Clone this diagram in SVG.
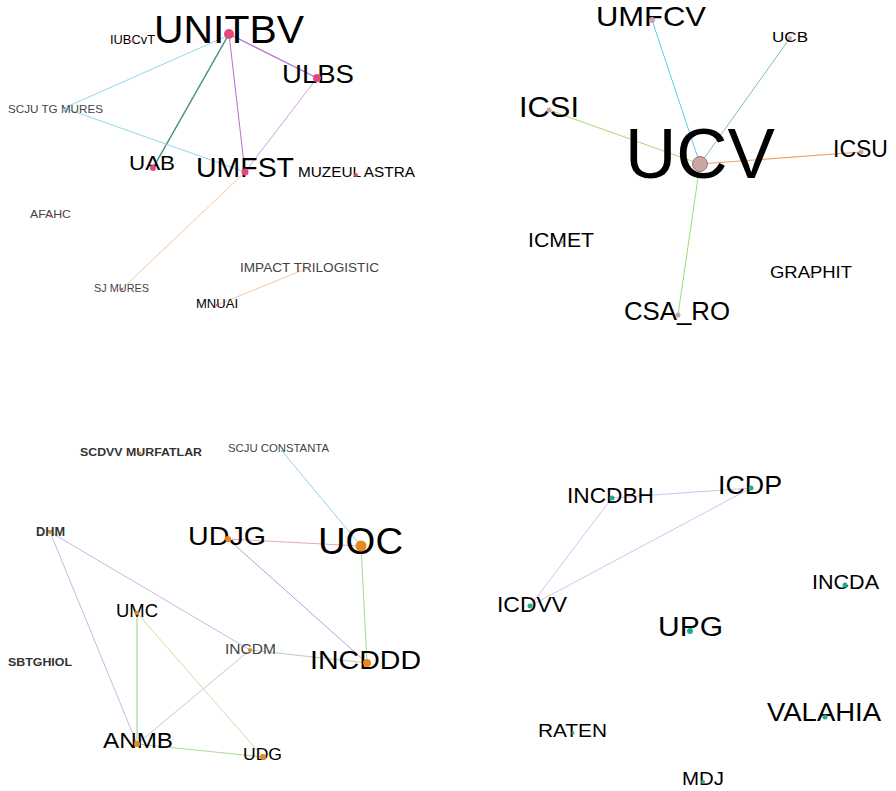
<svg xmlns="http://www.w3.org/2000/svg" width="896" height="791" viewBox="0 0 896 791">
<style>
text{font-family:"Liberation Sans",Arial,sans-serif;fill:#000}
.g{fill:#444}
.b{font-weight:bold;fill:#333}
.pk{fill:#e5487a}
.mv{fill:#c9a5a3}
.or{fill:#e8871e}
.tl{fill:#1fae8a}
#edges line{fill:none}
</style>
<rect width="896" height="791" fill="#fff"/>
<g id="edges">
<line x1="229" y1="34" x2="153" y2="168" stroke="#3f8f80" stroke-width="1.5"/>
<line x1="229" y1="34" x2="317" y2="78" stroke="#b070d0" stroke-width="1.2"/>
<line x1="229" y1="34" x2="245" y2="172" stroke="#b070d0" stroke-width="1"/>
<line x1="317" y1="78" x2="245" y2="172" stroke="#d0a0e0" stroke-width="1"/>
<line x1="227" y1="36" x2="64" y2="108" stroke="#8fd8e8" stroke-width="1"/>
<line x1="64" y1="108" x2="245" y2="172" stroke="#8fd8e8" stroke-width="1"/>
<line x1="243" y1="174" x2="123" y2="288" stroke="#f0c8a8" stroke-width="1"/>
<line x1="217" y1="305" x2="308" y2="268" stroke="#f0c8a8" stroke-width="1"/>
<line x1="652" y1="20" x2="700" y2="164" stroke="#60c8f0" stroke-width="1"/>
<line x1="790" y1="38" x2="700" y2="164" stroke="#88c0b0" stroke-width="1"/>
<line x1="549" y1="110" x2="700" y2="164" stroke="#a8d878" stroke-width="1"/>
<line x1="861" y1="152" x2="700" y2="164" stroke="#f0a060" stroke-width="1.2"/>
<line x1="678" y1="315" x2="700" y2="164" stroke="#98e070" stroke-width="1"/>
<line x1="282" y1="451" x2="361" y2="546" stroke="#90d0e8" stroke-width="1"/>
<line x1="228" y1="539" x2="361" y2="546" stroke="#e8a8b8" stroke-width="1"/>
<line x1="228" y1="539" x2="367" y2="663" stroke="#b8a0d8" stroke-width="1"/>
<line x1="361" y1="546" x2="367" y2="663" stroke="#a8d890" stroke-width="1"/>
<line x1="50" y1="532" x2="137" y2="744" stroke="#c8b8e0" stroke-width="1"/>
<line x1="50" y1="532" x2="250" y2="650" stroke="#c8b8e0" stroke-width="1"/>
<line x1="137" y1="613" x2="137" y2="744" stroke="#98d080" stroke-width="1"/>
<line x1="137" y1="613" x2="263" y2="757" stroke="#c8e0a0" stroke-width="1"/>
<line x1="250" y1="650" x2="367" y2="663" stroke="#b8d0b0" stroke-width="1"/>
<line x1="250" y1="650" x2="137" y2="744" stroke="#d0c0e0" stroke-width="1"/>
<line x1="137" y1="744" x2="263" y2="757" stroke="#a8d898" stroke-width="1"/>
<line x1="612" y1="498" x2="751" y2="488" stroke="#d8c0f0" stroke-width="1"/>
<line x1="612" y1="498" x2="530" y2="606" stroke="#d8c0f0" stroke-width="1"/>
<line x1="751" y1="488" x2="530" y2="606" stroke="#d8c0f0" stroke-width="1"/>
</g>
<g id="n-unitbv"><text x="154" y="43" font-size="39" textLength="150" lengthAdjust="spacingAndGlyphs">UNITBV</text><circle class="pk" cx="229" cy="34" r="5"/></g>
<g id="n-iubcvt"><text x="110" y="44" font-size="12" textLength="45" lengthAdjust="spacingAndGlyphs">IUBCvT</text><circle class="pk" cx="133" cy="41" r="1.5"/></g>
<g id="n-ulbs"><text x="282" y="83" font-size="25" textLength="72" lengthAdjust="spacingAndGlyphs">ULBS</text><circle class="pk" cx="317" cy="78" r="4"/></g>
<g id="n-scju-tg"><text class="g" x="8" y="113" font-size="11" textLength="95" lengthAdjust="spacingAndGlyphs">SCJU TG MURES</text><circle fill="#8fd8e8" cx="64" cy="110" r="1.5"/></g>
<g id="n-uab"><text x="129" y="170" font-size="21" textLength="46" lengthAdjust="spacingAndGlyphs">UAB</text><circle class="pk" cx="153" cy="168" r="3"/></g>
<g id="n-umfst"><text x="196" y="177" font-size="27" textLength="98" lengthAdjust="spacingAndGlyphs">UMFST</text><circle class="pk" cx="245" cy="172" r="3.5"/></g>
<g id="n-muzeul"><text x="298" y="177" font-size="14" textLength="117" lengthAdjust="spacingAndGlyphs">MUZEUL ASTRA</text><circle class="pk" cx="356" cy="175" r="2"/></g>
<g id="n-afahc"><text class="g" x="30" y="218" font-size="10.5" textLength="41" lengthAdjust="spacingAndGlyphs">AFAHC</text><circle class="pk" cx="50" cy="216" r="1.2"/></g>
<g id="n-sjmures"><text class="g" x="94" y="292" font-size="11" textLength="55" lengthAdjust="spacingAndGlyphs">SJ MURES</text><circle class="pk" cx="122" cy="289" r="1.3"/></g>
<g id="n-impact"><text class="g" x="240" y="272" font-size="13" textLength="139" lengthAdjust="spacingAndGlyphs">IMPACT TRILOGISTIC</text><circle class="pk" cx="308" cy="268" r="1.3"/></g>
<g id="n-mnuai"><text x="196" y="308" font-size="13" textLength="42" lengthAdjust="spacingAndGlyphs">MNUAI</text><circle class="pk" cx="217" cy="305" r="1.3"/></g>
<g id="n-umfcv"><text x="596" y="26" font-size="28" textLength="110" lengthAdjust="spacingAndGlyphs">UMFCV</text><circle class="mv" cx="652" cy="20" r="3"/></g>
<g id="n-ucb"><text x="772" y="42" font-size="15" textLength="36" lengthAdjust="spacingAndGlyphs">UCB</text><circle class="mv" cx="790" cy="38" r="2"/></g>
<g id="n-icsi"><text x="519" y="117" font-size="29" textLength="60" lengthAdjust="spacingAndGlyphs">ICSI</text><circle class="mv" cx="549" cy="110" r="2.5"/></g>
<g id="n-ucv"><text x="625" y="178" font-size="70" textLength="150" lengthAdjust="spacingAndGlyphs">UCV</text><circle class="mv" cx="700" cy="164" r="7.5" stroke="#9a7a78" stroke-width="1"/></g>
<g id="n-icsu"><text x="833" y="157" font-size="23" textLength="55" lengthAdjust="spacingAndGlyphs">ICSU</text><circle class="mv" cx="861" cy="152" r="2.5"/></g>
<g id="n-icmet"><text x="528" y="247" font-size="21" textLength="66" lengthAdjust="spacingAndGlyphs">ICMET</text><circle class="mv" cx="562" cy="242" r="1.5"/></g>
<g id="n-graphit"><text x="770" y="278" font-size="17" textLength="82" lengthAdjust="spacingAndGlyphs">GRAPHIT</text><circle class="mv" cx="811" cy="275" r="1.5"/></g>
<g id="n-csaro"><text x="624" y="320" font-size="25" textLength="106" lengthAdjust="spacingAndGlyphs">CSA_RO</text><circle class="mv" cx="678" cy="315" r="2.5"/></g>
<g id="n-scdvv"><text class="b" x="80" y="456" font-size="11.5" textLength="122" lengthAdjust="spacingAndGlyphs">SCDVV MURFATLAR</text><circle class="or" cx="140" cy="453" r="1.5"/></g>
<g id="n-scju-ct"><text class="g" x="228" y="452" font-size="11.5" textLength="101" lengthAdjust="spacingAndGlyphs">SCJU CONSTANTA</text><circle fill="#90d0e8" cx="282" cy="451" r="1.2"/></g>
<g id="n-dhm"><text class="b" x="36" y="536" font-size="12" textLength="29" lengthAdjust="spacingAndGlyphs">DHM</text><circle class="or" cx="50" cy="532" r="2"/></g>
<g id="n-udjg"><text x="188" y="545" font-size="26" textLength="78" lengthAdjust="spacingAndGlyphs">UDJG</text><circle class="or" cx="228" cy="539" r="3"/></g>
<g id="n-uoc"><text x="318" y="554" font-size="36" textLength="85" lengthAdjust="spacingAndGlyphs">UOC</text><circle class="or" cx="361" cy="546" r="5.5"/></g>
<g id="n-umc"><text x="116" y="617" font-size="18" textLength="42" lengthAdjust="spacingAndGlyphs">UMC</text><circle class="or" cx="137" cy="613" r="2.2"/></g>
<g id="n-sbtghiol"><text class="b" x="8" y="666" font-size="11" textLength="64" lengthAdjust="spacingAndGlyphs">SBTGHIOL</text><circle class="or" cx="38" cy="663" r="1"/></g>
<g id="n-incdm"><text class="g" x="225" y="654" font-size="15" textLength="51" lengthAdjust="spacingAndGlyphs">INCDM</text><circle class="or" cx="250" cy="650" r="2"/></g>
<g id="n-incddd"><text x="310" y="669" font-size="26" textLength="111" lengthAdjust="spacingAndGlyphs">INCDDD</text><circle class="or" cx="367" cy="663" r="4"/></g>
<g id="n-anmb"><text x="103" y="748" font-size="22" textLength="70" lengthAdjust="spacingAndGlyphs">ANMB</text><circle class="or" cx="137" cy="744" r="3"/></g>
<g id="n-udg"><text x="243" y="760" font-size="17" textLength="39" lengthAdjust="spacingAndGlyphs">UDG</text><circle class="or" cx="263" cy="757" r="3"/></g>
<g id="n-incdbh"><text x="567" y="503" font-size="22" textLength="87" lengthAdjust="spacingAndGlyphs">INCDBH</text><circle class="tl" cx="612" cy="498" r="2.5"/></g>
<g id="n-icdp"><text x="718" y="494" font-size="26" textLength="64" lengthAdjust="spacingAndGlyphs">ICDP</text><circle class="tl" cx="751" cy="488" r="2.5"/></g>
<g id="n-incda"><text x="812" y="589" font-size="20" textLength="67" lengthAdjust="spacingAndGlyphs">INCDA</text><circle class="tl" cx="845" cy="585" r="2.5"/></g>
<g id="n-icdvv"><text x="497" y="612" font-size="22" textLength="70" lengthAdjust="spacingAndGlyphs">ICDVV</text><circle class="tl" cx="530" cy="606" r="2.5"/></g>
<g id="n-upg"><text x="658" y="636" font-size="27" textLength="65" lengthAdjust="spacingAndGlyphs">UPG</text><circle class="tl" cx="690" cy="631" r="3"/></g>
<g id="n-valahia"><text x="767" y="721" font-size="25" textLength="114" lengthAdjust="spacingAndGlyphs">VALAHIA</text><circle class="tl" cx="825" cy="717" r="2.5"/></g>
<g id="n-raten"><text x="538" y="737" font-size="19" textLength="69" lengthAdjust="spacingAndGlyphs">RATEN</text><circle class="tl" cx="573" cy="733" r="1.5"/></g>
<g id="n-mdj"><text x="682" y="785" font-size="18.5" textLength="42" lengthAdjust="spacingAndGlyphs">MDJ</text><circle class="tl" cx="703" cy="782" r="2"/></g>
</svg>
